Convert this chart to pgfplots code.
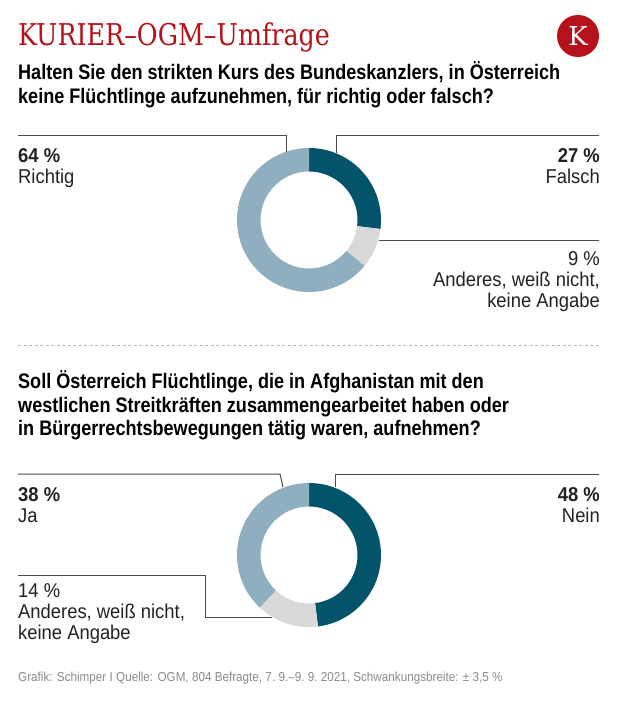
\documentclass[border=0pt]{standalone}
\usepackage{fontspec}
\setmainfont{Liberation Sans}
\newfontfamily\lab{Liberation Sans}[FakeStretch=0.92]
\newfontfamily\fn{Liberation Sans}[FakeStretch=0.9]
\newfontfamily\qf{Liberation Sans}[FakeStretch=0.86]
\newfontfamily\tf{DejaVu Serif}[FakeStretch=0.845]
\newfontfamily\kf{DejaVu Serif}
\usepackage{pgfplots}
\usepackage{pgfplotstable}
\pgfplotsset{compat=1.18}

\definecolor{cdark}{HTML}{03546A}
\definecolor{clight}{HTML}{8FAFC1}
\definecolor{cgray}{HTML}{D9D9D9}
\definecolor{kred}{HTML}{B5121B}
\definecolor{ltxt}{HTML}{222222}
\definecolor{lline}{HTML}{4A4A4A}
\definecolor{ftxt}{HTML}{8A8A8A}

\pgfplotstableread{
label value
Falsch 27
Anderes 9
Richtig 64
}\donutA
\pgfplotstableread{
label value
Nein 48
Anderes 14
Ja 38
}\donutB

\newcommand\getv[3]{\pgfplotstablegetelem{#2}{value}\of#1\global\let#3\pgfplotsretval}
% cx cy start end color
\newcommand\seg[5]{%
  \fill[#5] (axis cs:#1,#2) ++(#3:72pt) arc[start angle=#3, end angle=#4, radius=72pt]
    -- ++(#4+180:23.5pt) arc[start angle=#4, end angle=#3, radius=48.5pt] -- cycle;}

\newcommand\lf{\lab\fontsize{20}{22}\selectfont}
\newcommand\qfont{\qf\bfseries\fontsize{21}{24}\selectfont}

\begin{document}
\begin{tikzpicture}
\getv\donutA{0}\aA \getv\donutA{1}\aB \getv\donutA{2}\aC
\getv\donutB{0}\bA \getv\donutB{1}\bB \getv\donutB{2}\bC
\pgfmathsetmacro\Aone{90-3.6*\aA}
\pgfmathsetmacro\Atwo{\Aone-3.6*\aB}
\pgfmathsetmacro\Athree{\Atwo-3.6*\aC}
\pgfmathsetmacro\Bone{90-3.6*\bA}
\pgfmathsetmacro\Btwo{\Bone-3.6*\bB}
\pgfmathsetmacro\Bthree{\Btwo-3.6*\bC}
\begin{axis}[
  x=1pt, y=1pt, scale only axis,
  xmin=0, xmax=616, ymin=0, ymax=709,
  y dir=reverse, hide axis, clip=false,
]
\fill[white] (axis cs:0,0) rectangle (axis cs:616,709);

% title and logo
\node[anchor=base west, inner sep=0, text=kred] at (axis cs:18,46)
  {\tf\fontsize{30}{34}\selectfont KURIER–OGM–Umfrage};
\node[circle, fill=kred, minimum size=42pt, inner sep=0, text=white] at (axis cs:578,36)
  {\kf\fontsize{26}{28}\selectfont K};

% question 1
\node[anchor=base west, inner sep=0, text=black] at (axis cs:18,79)
  {\qfont Halten Sie den strikten Kurs des Bundeskanzlers, in Österreich};
\node[anchor=base west, inner sep=0, text=black] at (axis cs:18,103)
  {\qfont keine Flüchtlinge aufzunehmen, für richtig oder falsch?};

% donut 1
\seg{309}{220}{90}{\Aone}{cdark}
\seg{309}{220}{\Aone}{\Atwo}{cgray}
\seg{309}{220}{\Atwo}{\Athree}{clight}

\draw[lline, line width=1pt] (axis cs:18,135) -- (axis cs:286,135) -- (axis cs:286,152);
\draw[lline, line width=1pt] (axis cs:599,135) -- (axis cs:336,135) -- (axis cs:336,153);
\draw[lline, line width=1pt] (axis cs:379,240) -- (axis cs:599,240);

\node[anchor=base west, inner sep=0, text=ltxt] at (axis cs:18,162) {\lf\bfseries 64~\%};
\node[anchor=base west, inner sep=0, text=ltxt] at (axis cs:18,183) {\lf Richtig};
\node[anchor=base east, inner sep=0, text=ltxt] at (axis cs:600,162) {\lf\bfseries 27~\%};
\node[anchor=base east, inner sep=0, text=ltxt] at (axis cs:600,183) {\lf Falsch};
\node[anchor=base east, inner sep=0, text=ltxt] at (axis cs:600,265) {\lf 9~\%};
\node[anchor=base east, inner sep=0, text=ltxt] at (axis cs:600,286) {\lf Anderes, weiß nicht,};
\node[anchor=base east, inner sep=0, text=ltxt] at (axis cs:600,307) {\lf keine Angabe};

% separator
\draw[gray!55, line width=0.8pt, dash pattern=on 3pt off 2.5pt] (axis cs:18,345) -- (axis cs:600,345);

% question 2
\node[anchor=base west, inner sep=0, text=black] at (axis cs:18,388)
  {\qfont Soll Österreich Flüchtlinge, die in Afghanistan mit den};
\node[anchor=base west, inner sep=0, text=black] at (axis cs:18,412)
  {\qfont westlichen Streitkräften zusammengearbeitet haben oder};
\node[anchor=base west, inner sep=0, text=black] at (axis cs:18,435)
  {\qfont in Bürgerrechtsbewegungen tätig waren, aufnehmen?};

% donut 2
\seg{309}{555}{90}{\Bone}{cdark}
\seg{309}{555}{\Bone}{\Btwo}{cgray}
\seg{309}{555}{\Btwo}{\Bthree}{clight}

\draw[lline, line width=1pt] (axis cs:18,474) -- (axis cs:280,474) -- (axis cs:283,487);
\draw[lline, line width=1pt] (axis cs:599,474) -- (axis cs:335,474) -- (axis cs:335,487);
\draw[lline, line width=1pt] (axis cs:18,575) -- (axis cs:205,575) -- (axis cs:205,617) -- (axis cs:272,617);

\node[anchor=base west, inner sep=0, text=ltxt] at (axis cs:18,501) {\lf\bfseries 38~\%};
\node[anchor=base west, inner sep=0, text=ltxt] at (axis cs:18,522) {\lf Ja};
\node[anchor=base east, inner sep=0, text=ltxt] at (axis cs:600,501) {\lf\bfseries 48~\%};
\node[anchor=base east, inner sep=0, text=ltxt] at (axis cs:600,522) {\lf Nein};
\node[anchor=base west, inner sep=0, text=ltxt] at (axis cs:18,597) {\lf 14~\%};
\node[anchor=base west, inner sep=0, text=ltxt] at (axis cs:18,618) {\lf Anderes, weiß nicht,};
\node[anchor=base west, inner sep=0, text=ltxt] at (axis cs:18,639) {\lf keine Angabe};

% footer
\node[anchor=base west, inner sep=0, text=ftxt] at (axis cs:18,681)
  {\fn\fontsize{13}{15}\selectfont Grafik: Schimper I Quelle: OGM, 804 Befragte, 7.~9.–9.~9.~2021, Schwankungsbreite: ±~3,5~\%};
\end{axis}
\end{tikzpicture}
\end{document}
